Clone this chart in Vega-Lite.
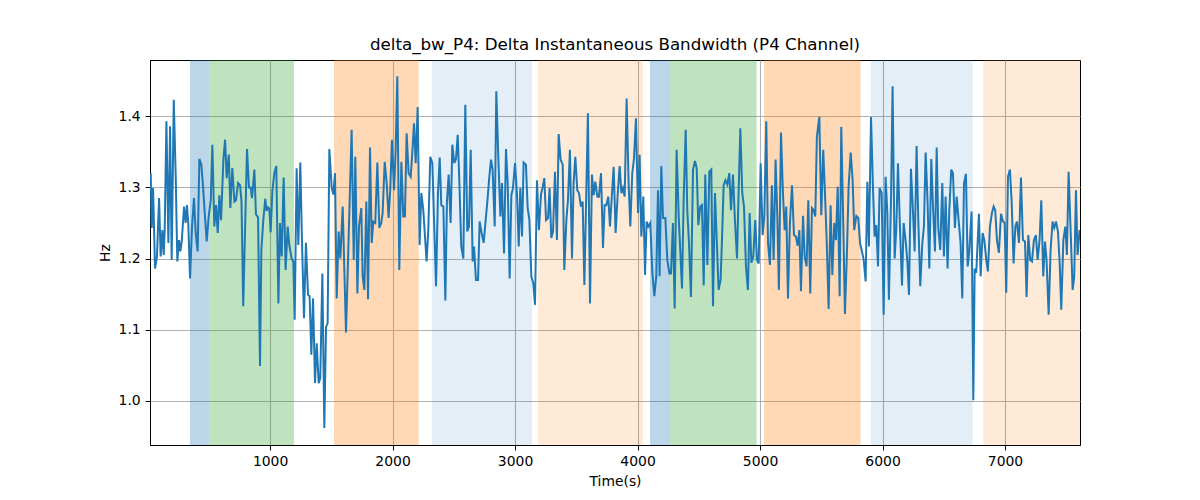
{
  "$schema": "https://vega.github.io/schema/vega-lite/v6.json",
  "width": 930,
  "height": 385,
  "autosize": {"type": "none"},
  "padding": {"left": 150, "top": 60, "right": 120, "bottom": 55},
  "background": "white",
  "config": {
    "font": "DejaVu Sans",
    "view": {"stroke": "black", "strokeWidth": 1},
    "axis": {
      "grid": true,
      "gridColor": "#b0b0b0",
      "gridWidth": 1.1,
      "domainColor": "black",
      "domainWidth": 1,
      "tickColor": "black",
      "tickSize": 4.9,
      "tickWidth": 1,
      "labelFontSize": 13.9,
      "labelColor": "black",
      "labelPadding": 4.9,
      "titleFontSize": 13.9,
      "titleFontWeight": "normal",
      "titleColor": "black",
      "titlePadding": 5.6
    }
  },
  "title": {
    "text": "delta_bw_P4: Delta Instantaneous Bandwidth (P4 Channel)",
    "fontSize": 16.7,
    "fontWeight": "normal",
    "color": "black",
    "font": "DejaVu Sans",
    "offset": 6
  },
  "layer": [
    {
      "data": {
        "values": [
          {"start": 346, "end": 505, "phase": "state 1"},
          {"start": 505, "end": 1195, "phase": "state 2"},
          {"start": 1522, "end": 2213, "phase": "state 3"},
          {"start": 2322, "end": 3138, "phase": "state 4"},
          {"start": 3187, "end": 4044, "phase": "state 5"},
          {"start": 4102, "end": 4267, "phase": "state 1"},
          {"start": 4267, "end": 4972, "phase": "state 2"},
          {"start": 5032, "end": 5821, "phase": "state 3"},
          {"start": 5906, "end": 6735, "phase": "state 4"},
          {"start": 6822, "end": 7612, "phase": "state 5"}
        ]
      },
      "mark": {"type": "rect", "strokeWidth": 1, "clip": true},
      "encoding": {
        "x": {
          "field": "start",
          "type": "quantitative",
          "scale": {"domain": [20, 7612], "nice": false, "zero": false},
          "axis": {"title": "Time(s)", "values": [1000, 2000, 3000, 4000, 5000, 6000, 7000], "format": "d"}
        },
        "x2": {"field": "end"},
        "color": {
          "field": "phase",
          "type": "nominal",
          "scale": {
            "domain": ["state 1", "state 2", "state 3", "state 4", "state 5"],
            "range": ["#1f77b4", "#2ca02c", "#ff7f0e", "#1f77b4", "#ff7f0e"]
          },
          "legend": null
        },
        "opacity": {
          "field": "phase",
          "type": "nominal",
          "scale": {
            "type": "ordinal",
            "domain": ["state 1", "state 2", "state 3", "state 4", "state 5"],
            "range": [0.3, 0.3, 0.3, 0.12, 0.16]
          },
          "legend": null
        }
      }
    },
    {
      "data": {
        "values": [
          {"t": 26, "hz": 1.32}, {"t": 34, "hz": 1.243}, {"t": 45, "hz": 1.299}, {"t": 61, "hz": 1.186}, {"t": 77, "hz": 1.203},
          {"t": 94, "hz": 1.285}, {"t": 107, "hz": 1.203}, {"t": 121, "hz": 1.24}, {"t": 132, "hz": 1.205}, {"t": 140, "hz": 1.24},
          {"t": 154, "hz": 1.393}, {"t": 170, "hz": 1.222}, {"t": 184, "hz": 1.386}, {"t": 197, "hz": 1.198}, {"t": 214, "hz": 1.423},
          {"t": 230, "hz": 1.315}, {"t": 243, "hz": 1.196}, {"t": 257, "hz": 1.226}, {"t": 268, "hz": 1.21}, {"t": 279, "hz": 1.224},
          {"t": 298, "hz": 1.273}, {"t": 311, "hz": 1.25}, {"t": 322, "hz": 1.275}, {"t": 333, "hz": 1.247}, {"t": 347, "hz": 1.172},
          {"t": 363, "hz": 1.245}, {"t": 379, "hz": 1.285}, {"t": 393, "hz": 1.236}, {"t": 409, "hz": 1.21}, {"t": 423, "hz": 1.34},
          {"t": 439, "hz": 1.332}, {"t": 453, "hz": 1.301}, {"t": 467, "hz": 1.264}, {"t": 483, "hz": 1.224}, {"t": 499, "hz": 1.259},
          {"t": 516, "hz": 1.282}, {"t": 529, "hz": 1.36}, {"t": 545, "hz": 1.245}, {"t": 559, "hz": 1.275}, {"t": 573, "hz": 1.236},
          {"t": 586, "hz": 1.289}, {"t": 600, "hz": 1.254}, {"t": 619, "hz": 1.339}, {"t": 633, "hz": 1.367}, {"t": 646, "hz": 1.313},
          {"t": 663, "hz": 1.346}, {"t": 676, "hz": 1.271}, {"t": 692, "hz": 1.327}, {"t": 709, "hz": 1.28}, {"t": 722, "hz": 1.282},
          {"t": 739, "hz": 1.306}, {"t": 755, "hz": 1.303}, {"t": 767, "hz": 1.28}, {"t": 781, "hz": 1.133}, {"t": 812, "hz": 1.354},
          {"t": 828, "hz": 1.3}, {"t": 842, "hz": 1.3}, {"t": 853, "hz": 1.285}, {"t": 858, "hz": 1.296}, {"t": 872, "hz": 1.325},
          {"t": 885, "hz": 1.262}, {"t": 902, "hz": 1.258}, {"t": 918, "hz": 1.049}, {"t": 929, "hz": 1.212}, {"t": 945, "hz": 1.254},
          {"t": 961, "hz": 1.284}, {"t": 972, "hz": 1.267}, {"t": 983, "hz": 1.272}, {"t": 994, "hz": 1.27}, {"t": 1005, "hz": 1.237},
          {"t": 1019, "hz": 1.295}, {"t": 1035, "hz": 1.32}, {"t": 1051, "hz": 1.33}, {"t": 1068, "hz": 1.137}, {"t": 1081, "hz": 1.25},
          {"t": 1095, "hz": 1.203}, {"t": 1111, "hz": 1.314}, {"t": 1127, "hz": 1.184}, {"t": 1144, "hz": 1.245}, {"t": 1157, "hz": 1.219},
          {"t": 1176, "hz": 1.2}, {"t": 1190, "hz": 1.196}, {"t": 1201, "hz": 1.114}, {"t": 1217, "hz": 1.327}, {"t": 1231, "hz": 1.219},
          {"t": 1247, "hz": 1.335}, {"t": 1261, "hz": 1.222}, {"t": 1277, "hz": 1.116}, {"t": 1293, "hz": 1.222}, {"t": 1310, "hz": 1.149},
          {"t": 1323, "hz": 1.147}, {"t": 1337, "hz": 1.065}, {"t": 1351, "hz": 1.144}, {"t": 1367, "hz": 1.025}, {"t": 1381, "hz": 1.081},
          {"t": 1397, "hz": 1.025}, {"t": 1410, "hz": 1.032}, {"t": 1427, "hz": 1.179}, {"t": 1443, "hz": 0.962}, {"t": 1457, "hz": 1.104},
          {"t": 1470, "hz": 1.109}, {"t": 1484, "hz": 1.354}, {"t": 1503, "hz": 1.3}, {"t": 1517, "hz": 1.29}, {"t": 1530, "hz": 1.32},
          {"t": 1544, "hz": 1.144}, {"t": 1560, "hz": 1.238}, {"t": 1574, "hz": 1.2}, {"t": 1593, "hz": 1.273}, {"t": 1620, "hz": 1.096},
          {"t": 1666, "hz": 1.381}, {"t": 1683, "hz": 1.198}, {"t": 1696, "hz": 1.343}, {"t": 1713, "hz": 1.151}, {"t": 1726, "hz": 1.245},
          {"t": 1745, "hz": 1.271}, {"t": 1756, "hz": 1.175}, {"t": 1770, "hz": 1.156}, {"t": 1786, "hz": 1.28}, {"t": 1800, "hz": 1.143},
          {"t": 1816, "hz": 1.356}, {"t": 1830, "hz": 1.222}, {"t": 1843, "hz": 1.252}, {"t": 1859, "hz": 1.25}, {"t": 1876, "hz": 1.335},
          {"t": 1892, "hz": 1.243}, {"t": 1908, "hz": 1.25}, {"t": 1919, "hz": 1.264}, {"t": 1936, "hz": 1.336}, {"t": 1952, "hz": 1.306},
          {"t": 1968, "hz": 1.257}, {"t": 1982, "hz": 1.3}, {"t": 1995, "hz": 1.367}, {"t": 2012, "hz": 1.296}, {"t": 2025, "hz": 1.35},
          {"t": 2039, "hz": 1.456}, {"t": 2055, "hz": 1.184}, {"t": 2072, "hz": 1.336}, {"t": 2088, "hz": 1.259}, {"t": 2101, "hz": 1.259},
          {"t": 2115, "hz": 1.376}, {"t": 2131, "hz": 1.32}, {"t": 2148, "hz": 1.315}, {"t": 2161, "hz": 1.348}, {"t": 2175, "hz": 1.39},
          {"t": 2189, "hz": 1.334}, {"t": 2205, "hz": 1.413}, {"t": 2221, "hz": 1.219}, {"t": 2235, "hz": 1.292}, {"t": 2251, "hz": 1.268},
          {"t": 2278, "hz": 1.196}, {"t": 2292, "hz": 1.24}, {"t": 2308, "hz": 1.343}, {"t": 2325, "hz": 1.334}, {"t": 2355, "hz": 1.161},
          {"t": 2371, "hz": 1.292}, {"t": 2385, "hz": 1.342}, {"t": 2398, "hz": 1.275}, {"t": 2415, "hz": 1.273}, {"t": 2431, "hz": 1.141},
          {"t": 2444, "hz": 1.28}, {"t": 2458, "hz": 1.318}, {"t": 2474, "hz": 1.25}, {"t": 2488, "hz": 1.36}, {"t": 2504, "hz": 1.334},
          {"t": 2518, "hz": 1.34}, {"t": 2532, "hz": 1.374}, {"t": 2545, "hz": 1.31}, {"t": 2561, "hz": 1.217}, {"t": 2578, "hz": 1.2},
          {"t": 2594, "hz": 1.416}, {"t": 2610, "hz": 1.238}, {"t": 2624, "hz": 1.245}, {"t": 2638, "hz": 1.353}, {"t": 2654, "hz": 1.196},
          {"t": 2665, "hz": 1.217}, {"t": 2681, "hz": 1.17}, {"t": 2698, "hz": 1.17}, {"t": 2711, "hz": 1.252}, {"t": 2727, "hz": 1.236},
          {"t": 2744, "hz": 1.222}, {"t": 2760, "hz": 1.254}, {"t": 2774, "hz": 1.28}, {"t": 2790, "hz": 1.315}, {"t": 2804, "hz": 1.339},
          {"t": 2817, "hz": 1.325}, {"t": 2834, "hz": 1.245}, {"t": 2847, "hz": 1.435}, {"t": 2864, "hz": 1.339}, {"t": 2880, "hz": 1.259},
          {"t": 2893, "hz": 1.306}, {"t": 2910, "hz": 1.207}, {"t": 2926, "hz": 1.354}, {"t": 2940, "hz": 1.306}, {"t": 2956, "hz": 1.172},
          {"t": 2970, "hz": 1.289}, {"t": 2983, "hz": 1.299}, {"t": 3000, "hz": 1.334}, {"t": 3016, "hz": 1.29}, {"t": 3030, "hz": 1.217},
          {"t": 3043, "hz": 1.299}, {"t": 3057, "hz": 1.231}, {"t": 3070, "hz": 1.335}, {"t": 3089, "hz": 1.332}, {"t": 3103, "hz": 1.271},
          {"t": 3117, "hz": 1.254}, {"t": 3133, "hz": 1.175}, {"t": 3149, "hz": 1.165}, {"t": 3163, "hz": 1.135}, {"t": 3179, "hz": 1.31},
          {"t": 3195, "hz": 1.24}, {"t": 3212, "hz": 1.29}, {"t": 3225, "hz": 1.3}, {"t": 3239, "hz": 1.313}, {"t": 3253, "hz": 1.254},
          {"t": 3269, "hz": 1.257}, {"t": 3282, "hz": 1.299}, {"t": 3296, "hz": 1.229}, {"t": 3310, "hz": 1.238}, {"t": 3326, "hz": 1.322},
          {"t": 3342, "hz": 1.226}, {"t": 3356, "hz": 1.375}, {"t": 3372, "hz": 1.339}, {"t": 3389, "hz": 1.332}, {"t": 3402, "hz": 1.184},
          {"t": 3419, "hz": 1.254}, {"t": 3432, "hz": 1.282}, {"t": 3448, "hz": 1.353}, {"t": 3465, "hz": 1.2}, {"t": 3478, "hz": 1.306},
          {"t": 3492, "hz": 1.343}, {"t": 3508, "hz": 1.296}, {"t": 3522, "hz": 1.292}, {"t": 3538, "hz": 1.273}, {"t": 3552, "hz": 1.28},
          {"t": 3566, "hz": 1.163}, {"t": 3595, "hz": 1.404}, {"t": 3612, "hz": 1.137}, {"t": 3628, "hz": 1.318}, {"t": 3642, "hz": 1.289},
          {"t": 3655, "hz": 1.308}, {"t": 3672, "hz": 1.287}, {"t": 3685, "hz": 1.287}, {"t": 3702, "hz": 1.32}, {"t": 3718, "hz": 1.215},
          {"t": 3731, "hz": 1.275}, {"t": 3745, "hz": 1.275}, {"t": 3761, "hz": 1.287}, {"t": 3775, "hz": 1.245}, {"t": 3805, "hz": 1.329},
          {"t": 3821, "hz": 1.236}, {"t": 3838, "hz": 1.29}, {"t": 3854, "hz": 1.33}, {"t": 3868, "hz": 1.292}, {"t": 3881, "hz": 1.299},
          {"t": 3895, "hz": 1.287}, {"t": 3911, "hz": 1.425}, {"t": 3927, "hz": 1.306}, {"t": 3941, "hz": 1.245}, {"t": 3957, "hz": 1.32},
          {"t": 3971, "hz": 1.34}, {"t": 3987, "hz": 1.397}, {"t": 4004, "hz": 1.264}, {"t": 4017, "hz": 1.346}, {"t": 4031, "hz": 1.231},
          {"t": 4047, "hz": 1.287}, {"t": 4061, "hz": 1.177}, {"t": 4074, "hz": 1.252}, {"t": 4088, "hz": 1.245}, {"t": 4104, "hz": 1.25},
          {"t": 4121, "hz": 1.18}, {"t": 4137, "hz": 1.147}, {"t": 4153, "hz": 1.175}, {"t": 4167, "hz": 1.296}, {"t": 4180, "hz": 1.175},
          {"t": 4194, "hz": 1.33}, {"t": 4208, "hz": 1.257}, {"t": 4227, "hz": 1.257}, {"t": 4243, "hz": 1.198}, {"t": 4260, "hz": 1.179},
          {"t": 4273, "hz": 1.179}, {"t": 4289, "hz": 1.25}, {"t": 4303, "hz": 1.13}, {"t": 4319, "hz": 1.353}, {"t": 4336, "hz": 1.259},
          {"t": 4363, "hz": 1.158}, {"t": 4376, "hz": 1.28}, {"t": 4393, "hz": 1.381}, {"t": 4406, "hz": 1.268}, {"t": 4420, "hz": 1.222},
          {"t": 4436, "hz": 1.146}, {"t": 4453, "hz": 1.325}, {"t": 4469, "hz": 1.337}, {"t": 4483, "hz": 1.327}, {"t": 4496, "hz": 1.247},
          {"t": 4512, "hz": 1.273}, {"t": 4526, "hz": 1.275}, {"t": 4540, "hz": 1.162}, {"t": 4553, "hz": 1.318}, {"t": 4570, "hz": 1.191},
          {"t": 4586, "hz": 1.322}, {"t": 4602, "hz": 1.325}, {"t": 4616, "hz": 1.133}, {"t": 4632, "hz": 1.292}, {"t": 4662, "hz": 1.156},
          {"t": 4678, "hz": 1.17}, {"t": 4692, "hz": 1.24}, {"t": 4703, "hz": 1.303}, {"t": 4717, "hz": 1.31}, {"t": 4733, "hz": 1.304},
          {"t": 4749, "hz": 1.32}, {"t": 4763, "hz": 1.268}, {"t": 4779, "hz": 1.318}, {"t": 4795, "hz": 1.254}, {"t": 4812, "hz": 1.2},
          {"t": 4825, "hz": 1.292}, {"t": 4839, "hz": 1.383}, {"t": 4855, "hz": 1.292}, {"t": 4869, "hz": 1.273}, {"t": 4885, "hz": 1.189},
          {"t": 4901, "hz": 1.156}, {"t": 4915, "hz": 1.264}, {"t": 4929, "hz": 1.194}, {"t": 4945, "hz": 1.203}, {"t": 4961, "hz": 1.254},
          {"t": 4975, "hz": 1.198}, {"t": 4989, "hz": 1.193}, {"t": 5005, "hz": 1.334}, {"t": 5021, "hz": 1.233}, {"t": 5035, "hz": 1.26},
          {"t": 5051, "hz": 1.393}, {"t": 5065, "hz": 1.222}, {"t": 5081, "hz": 1.191}, {"t": 5097, "hz": 1.303}, {"t": 5111, "hz": 1.198},
          {"t": 5127, "hz": 1.339}, {"t": 5141, "hz": 1.26}, {"t": 5154, "hz": 1.156}, {"t": 5171, "hz": 1.377}, {"t": 5187, "hz": 1.292},
          {"t": 5201, "hz": 1.24}, {"t": 5214, "hz": 1.273}, {"t": 5228, "hz": 1.144}, {"t": 5244, "hz": 1.25}, {"t": 5261, "hz": 1.303},
          {"t": 5277, "hz": 1.233}, {"t": 5293, "hz": 1.231}, {"t": 5307, "hz": 1.218}, {"t": 5321, "hz": 1.24}, {"t": 5334, "hz": 1.154},
          {"t": 5351, "hz": 1.26}, {"t": 5364, "hz": 1.203}, {"t": 5380, "hz": 1.189}, {"t": 5394, "hz": 1.282}, {"t": 5410, "hz": 1.151},
          {"t": 5424, "hz": 1.271}, {"t": 5438, "hz": 1.268}, {"t": 5451, "hz": 1.259}, {"t": 5464, "hz": 1.371}, {"t": 5484, "hz": 1.399},
          {"t": 5500, "hz": 1.261}, {"t": 5516, "hz": 1.353}, {"t": 5530, "hz": 1.292}, {"t": 5544, "hz": 1.226}, {"t": 5560, "hz": 1.129},
          {"t": 5576, "hz": 1.275}, {"t": 5590, "hz": 1.177}, {"t": 5606, "hz": 1.25}, {"t": 5620, "hz": 1.226}, {"t": 5634, "hz": 1.301},
          {"t": 5650, "hz": 1.147}, {"t": 5663, "hz": 1.385}, {"t": 5680, "hz": 1.245}, {"t": 5693, "hz": 1.122}, {"t": 5710, "hz": 1.212},
          {"t": 5723, "hz": 1.301}, {"t": 5740, "hz": 1.349}, {"t": 5756, "hz": 1.31}, {"t": 5769, "hz": 1.24}, {"t": 5786, "hz": 1.26},
          {"t": 5802, "hz": 1.257}, {"t": 5816, "hz": 1.222}, {"t": 5832, "hz": 1.21}, {"t": 5846, "hz": 1.198}, {"t": 5862, "hz": 1.168},
          {"t": 5876, "hz": 1.308}, {"t": 5889, "hz": 1.217}, {"t": 5906, "hz": 1.399}, {"t": 5922, "hz": 1.299}, {"t": 5935, "hz": 1.231},
          {"t": 5949, "hz": 1.247}, {"t": 5963, "hz": 1.189}, {"t": 5976, "hz": 1.299}, {"t": 5993, "hz": 1.292}, {"t": 6009, "hz": 1.121},
          {"t": 6025, "hz": 1.315}, {"t": 6039, "hz": 1.265}, {"t": 6052, "hz": 1.142}, {"t": 6069, "hz": 1.28}, {"t": 6082, "hz": 1.442},
          {"t": 6099, "hz": 1.2}, {"t": 6112, "hz": 1.24}, {"t": 6126, "hz": 1.334}, {"t": 6142, "hz": 1.245}, {"t": 6159, "hz": 1.162},
          {"t": 6172, "hz": 1.25}, {"t": 6188, "hz": 1.226}, {"t": 6202, "hz": 1.198}, {"t": 6216, "hz": 1.149}, {"t": 6232, "hz": 1.326},
          {"t": 6248, "hz": 1.268}, {"t": 6262, "hz": 1.21}, {"t": 6278, "hz": 1.358}, {"t": 6292, "hz": 1.254}, {"t": 6308, "hz": 1.161},
          {"t": 6325, "hz": 1.222}, {"t": 6338, "hz": 1.245}, {"t": 6352, "hz": 1.349}, {"t": 6368, "hz": 1.278}, {"t": 6382, "hz": 1.186},
          {"t": 6398, "hz": 1.34}, {"t": 6412, "hz": 1.273}, {"t": 6428, "hz": 1.21}, {"t": 6442, "hz": 1.356}, {"t": 6455, "hz": 1.243},
          {"t": 6471, "hz": 1.212}, {"t": 6488, "hz": 1.306}, {"t": 6501, "hz": 1.203}, {"t": 6515, "hz": 1.287}, {"t": 6531, "hz": 1.186},
          {"t": 6545, "hz": 1.268}, {"t": 6561, "hz": 1.325}, {"t": 6575, "hz": 1.32}, {"t": 6591, "hz": 1.243}, {"t": 6605, "hz": 1.287},
          {"t": 6621, "hz": 1.254}, {"t": 6637, "hz": 1.222}, {"t": 6651, "hz": 1.144}, {"t": 6665, "hz": 1.306}, {"t": 6681, "hz": 1.319},
          {"t": 6695, "hz": 1.189}, {"t": 6708, "hz": 1.21}, {"t": 6727, "hz": 1.266}, {"t": 6741, "hz": 1.001}, {"t": 6752, "hz": 1.186},
          {"t": 6765, "hz": 1.18}, {"t": 6787, "hz": 1.263}, {"t": 6801, "hz": 1.175}, {"t": 6817, "hz": 1.236}, {"t": 6831, "hz": 1.226},
          {"t": 6847, "hz": 1.198}, {"t": 6860, "hz": 1.182}, {"t": 6877, "hz": 1.245}, {"t": 6893, "hz": 1.264}, {"t": 6907, "hz": 1.273},
          {"t": 6920, "hz": 1.268}, {"t": 6934, "hz": 1.226}, {"t": 6950, "hz": 1.208}, {"t": 6967, "hz": 1.263}, {"t": 6983, "hz": 1.252},
          {"t": 6997, "hz": 1.25}, {"t": 7010, "hz": 1.152}, {"t": 7024, "hz": 1.315}, {"t": 7040, "hz": 1.325}, {"t": 7054, "hz": 1.28},
          {"t": 7070, "hz": 1.193}, {"t": 7084, "hz": 1.245}, {"t": 7097, "hz": 1.252}, {"t": 7114, "hz": 1.222}, {"t": 7130, "hz": 1.314},
          {"t": 7146, "hz": 1.226}, {"t": 7163, "hz": 1.224}, {"t": 7176, "hz": 1.146}, {"t": 7190, "hz": 1.233}, {"t": 7206, "hz": 1.198},
          {"t": 7220, "hz": 1.196}, {"t": 7236, "hz": 1.226}, {"t": 7252, "hz": 1.233}, {"t": 7266, "hz": 1.198}, {"t": 7282, "hz": 1.226},
          {"t": 7296, "hz": 1.282}, {"t": 7312, "hz": 1.175}, {"t": 7326, "hz": 1.224}, {"t": 7339, "hz": 1.198}, {"t": 7356, "hz": 1.121},
          {"t": 7372, "hz": 1.212}, {"t": 7388, "hz": 1.252}, {"t": 7402, "hz": 1.243}, {"t": 7416, "hz": 1.252}, {"t": 7432, "hz": 1.238},
          {"t": 7446, "hz": 1.194}, {"t": 7459, "hz": 1.128}, {"t": 7476, "hz": 1.226}, {"t": 7492, "hz": 1.245}, {"t": 7505, "hz": 1.205},
          {"t": 7519, "hz": 1.322}, {"t": 7552, "hz": 1.156}, {"t": 7565, "hz": 1.175}, {"t": 7579, "hz": 1.296}, {"t": 7592, "hz": 1.205},
          {"t": 7609, "hz": 1.24}
        ]
      },
      "mark": {"type": "line", "color": "#1f77b4", "strokeWidth": 2, "clip": true},
      "encoding": {
        "x": {
          "field": "t",
          "type": "quantitative",
          "axis": {"title": "Time(s)", "values": [1000, 2000, 3000, 4000, 5000, 6000, 7000], "format": "d"}
        },
        "y": {
          "field": "hz",
          "type": "quantitative",
          "scale": {"domain": [0.938, 1.479], "nice": false, "zero": false},
          "axis": {"title": "Hz", "values": [1.0, 1.1, 1.2, 1.3, 1.4], "format": ".1f"}
        }
      }
    }
  ]
}
